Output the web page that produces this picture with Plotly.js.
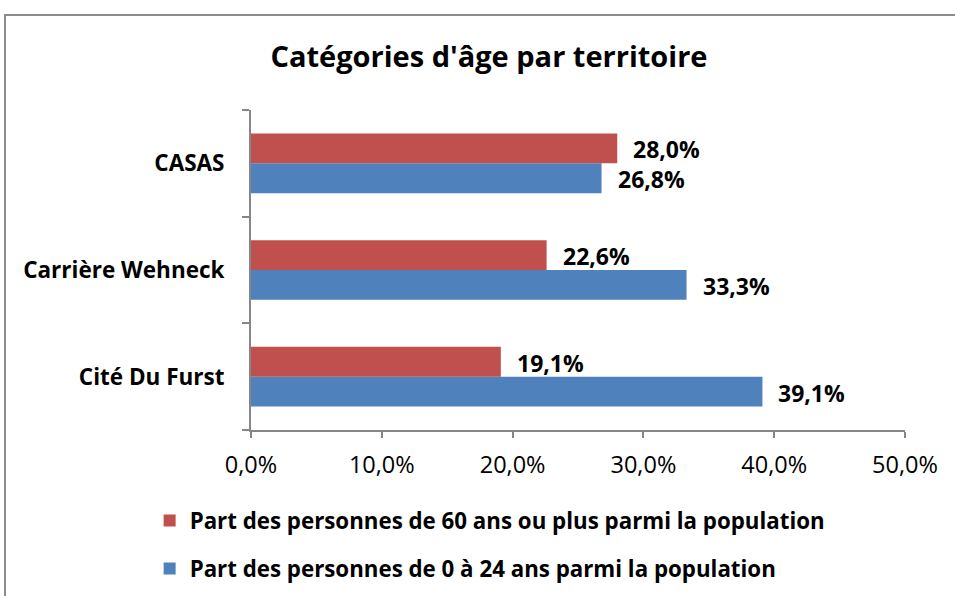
<!DOCTYPE html>
<html>
<head>
<meta charset="utf-8">
<script src="https://cdn.plot.ly/plotly-3.0.1.min.js"></script>
<style>
  html, body { margin: 0; padding: 0; background: #fff; overflow: hidden; }
  #wrap { position: relative; width: 955px; height: 596px; overflow: hidden; }
  #frame { position: absolute; left: 4px; top: 14px; width: 1000px; height: 700px; border: 2px solid #8c8c8c; box-sizing: border-box; pointer-events: none; }
  #chart { position: absolute; left: 0; top: 0; width: 955px; height: 596px; }
</style>
</head>
<body>
<div id="wrap">
  <div id="chart"></div>
  <div id="frame"></div>
</div>
<script>
const categories = ['CASAS', 'Carrière Wehneck', 'Cité Du Furst'];
const seniors = [28.0, 22.6, 19.1];   // Part des personnes de 60 ans ou plus
const youth = [26.8, 33.3, 39.1];     // Part des personnes de 0 à 24 ans
const seniorsName = 'Part des personnes de 60 ans ou plus parmi la population';
const youthName = 'Part des personnes de 0 à 24 ans parmi la population';
const xTicks = [0, 10, 20, 30, 40, 50];
const xTickLabels = ['0,0%', '10,0%', '20,0%', '30,0%', '40,0%', '50,0%'];

const FONT = '"Open Sans", sans-serif';
const fmt = v => v.toFixed(1).replace('.', ',') + '%';

const traces = [
  {
    type: 'bar', orientation: 'h', name: youthName,
    y: categories, x: youth,
    marker: { color: '#4F81BD' }, legendgroup: 'b', legendrank: 2, hoverinfo: 'none'
  },
  {
    type: 'bar', orientation: 'h', name: seniorsName,
    y: categories, x: seniors,
    marker: { color: '#C0504D' }, legendgroup: 'a', legendrank: 1, hoverinfo: 'none'
  }
];

const annotations = [];
categories.forEach((c, i) => {
  annotations.push({ x: seniors[i], y: c, text: '<b>' + fmt(seniors[i]) + '</b>', showarrow: false,
    xanchor: 'left', yanchor: 'middle', xshift: 14, yshift: 14,
    font: { family: FONT, size: 23, color: '#000' } });
  annotations.push({ x: youth[i], y: c, text: '<b>' + fmt(youth[i]) + '</b>', showarrow: false,
    xanchor: 'left', yanchor: 'middle', xshift: 14, yshift: -16,
    font: { family: FONT, size: 23, color: '#000' } });
});

const layout = {
  width: 955, height: 596,
  margin: { l: 251, r: 50, t: 110, b: 166, autoexpand: false },
  paper_bgcolor: '#fff', plot_bgcolor: '#fff',
  title: { text: '<b>Catégories d\'âge par territoire</b>', x: 0.512, xanchor: 'center', y: 0.905, yanchor: 'middle',
    font: { family: FONT, size: 29, color: '#000' } },
  barmode: 'group', bargap: 0.44, bargroupgap: 0,
  xaxis: {
    range: [0, 50], tickvals: xTicks, ticktext: xTickLabels,
    showgrid: false, zeroline: false, showline: true, linecolor: '#868686', linewidth: 2,
    ticks: 'outside', ticklen: 6, tickwidth: 2, tickcolor: '#868686', ticklabelstandoff: 7,
    tickfont: { family: FONT, size: 23.5, color: '#000' }, fixedrange: true
  },
  yaxis: {
    type: 'category', categoryorder: 'array', categoryarray: categories.slice().reverse(),
    showgrid: false, zeroline: false, showline: true, linecolor: '#868686', linewidth: 2,
    ticks: 'outside', ticklen: 7, tickwidth: 2, tickcolor: '#868686', tickson: 'boundaries',
    ticklabelstandoff: 20,
    tickfont: { family: FONT, size: 22.5, color: '#000', weight: 'bold' }, fixedrange: true
  },
  showlegend: true,
  legend: {
    orientation: 'v', traceorder: 'grouped', tracegroupgap: 16,
    x: -0.155, xanchor: 'left', y: -0.217, yanchor: 'top',
    font: { family: FONT, size: 22.3, color: '#000', weight: 'bold' },
    bgcolor: 'rgba(0,0,0,0)'
  },
  annotations: annotations
};

Plotly.newPlot('chart', traces, layout, { displayModeBar: false, staticPlot: true });
</script>
</body>
</html>
